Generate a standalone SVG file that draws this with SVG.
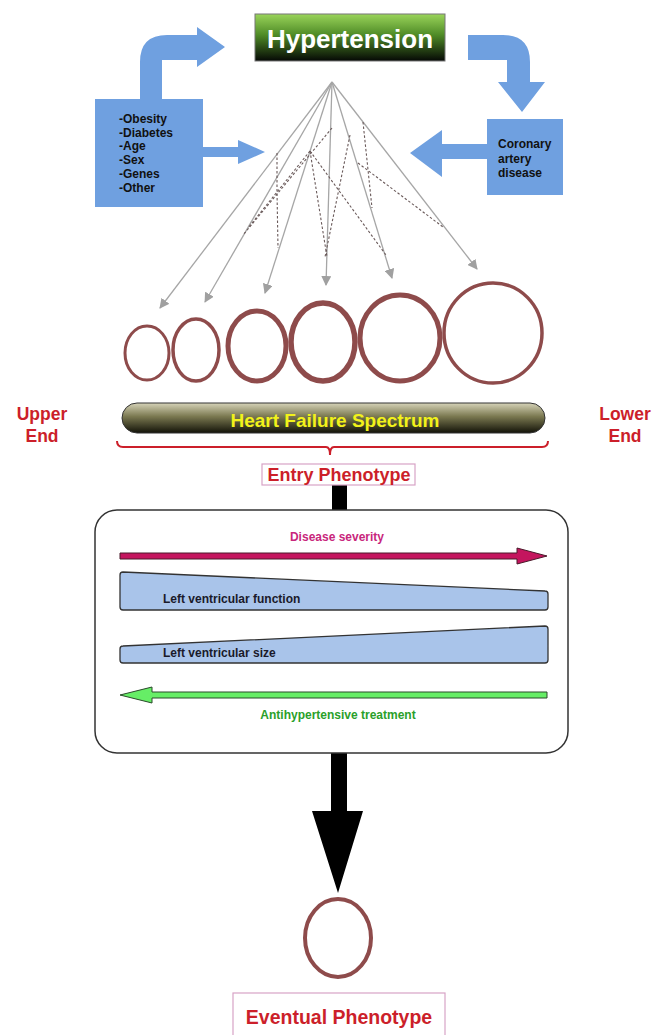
<svg xmlns="http://www.w3.org/2000/svg" width="656" height="1035" viewBox="0 0 656 1035">
<defs>
<linearGradient id="gHyp" x1="0" y1="0" x2="0" y2="1">
<stop offset="0" stop-color="#9ad45a"/>
<stop offset="0.45" stop-color="#4e8a26"/>
<stop offset="1" stop-color="#050805"/>
</linearGradient>
<linearGradient id="gHF" x1="0" y1="0" x2="0" y2="1">
<stop offset="0" stop-color="#d6d3b8"/>
<stop offset="0.45" stop-color="#7a7850"/>
<stop offset="1" stop-color="#121208"/>
</linearGradient>
<marker id="ah" markerWidth="10" markerHeight="10" refX="9" refY="5" orient="auto" markerUnits="userSpaceOnUse">
<path d="M0,0 L10,5 L0,10 Z" fill="#a0a0a0"/>
</marker>
</defs>
<style>
.b{font-family:"Liberation Sans",Arial,sans-serif;font-weight:bold}
.blue{fill:#6fa0e0}
.sol{stroke:#a6a6a6;stroke-width:1.3;fill:none}
.dash{stroke:#6a5a5a;stroke-width:1.1;stroke-dasharray:2.5,2;fill:none}
.ring{fill:none;stroke:#8e4b4b}
.red{fill:#cc1f2a}
.wedge{fill:#a9c4ea;stroke:#333;stroke-width:1.3;stroke-linejoin:round}
</style>
<rect width="656" height="1035" fill="#fff"/>

<g id="connectors">
<path class="blue" d="M140,99 L140,62 Q140,35 167,35 L197,35 L197,27 L225,47 L197,67 L197,60 L162,60 L162,99 Z"/>
<path class="blue" d="M203,147 L238,147 L238,140 L265,152 L238,164 L238,157 L203,157 Z"/>
<path class="blue" d="M468,35 L503,35 Q530,35 530,62 L530,82 L545,82 L522,112 L498,82 L507,82 L507,60 L468,60 Z"/>
<path class="blue" d="M487,144 L442,144 L442,130 L410,153 L442,177 L442,159 L487,159 Z"/>
<g id="fan">
<line class="sol" x1="332" y1="82" x2="160" y2="308" marker-end="url(#ah)"/>
<line class="sol" x1="332" y1="82" x2="205" y2="302" marker-end="url(#ah)"/>
<line class="sol" x1="332" y1="82" x2="265" y2="293" marker-end="url(#ah)"/>
<line class="sol" x1="332" y1="82" x2="326" y2="285" marker-end="url(#ah)"/>
<line class="sol" x1="332" y1="82" x2="392" y2="278" marker-end="url(#ah)"/>
<line class="sol" x1="332" y1="82" x2="477" y2="269" marker-end="url(#ah)"/>
<polyline class="dash" points="277,153 277,192 278,248"/>
<line class="dash" x1="332" y1="128" x2="243" y2="235"/>
<line class="dash" x1="310" y1="151" x2="248" y2="228"/>
<line class="dash" x1="310" y1="151" x2="327" y2="257"/>
<line class="dash" x1="310" y1="151" x2="386" y2="255"/>
<line class="dash" x1="350" y1="135" x2="325" y2="257"/>
<line class="dash" x1="363" y1="122" x2="372" y2="208"/>
<line class="dash" x1="358" y1="163" x2="443" y2="227"/>
</g>
<rect x="332" y="484" width="15" height="30" fill="#000"/>
<path d="M331,753 L347,753 L347,811 L363,811 L338,893 L312,811 L331,811 Z" fill="#000"/>
</g>

<g id="hypertension">
<rect x="255" y="14" width="190" height="47" fill="url(#gHyp)" stroke="#777" stroke-width="1"/>
<text class="b" x="350" y="48" font-size="26" fill="#fff" text-anchor="middle">Hypertension</text>
</g>

<g id="risk-factors">
<rect class="blue" x="95" y="99" width="108" height="108"/>
<text class="b" font-size="12" fill="#111">
<tspan x="119" y="123">-Obesity</tspan>
<tspan x="119" y="137">-Diabetes</tspan>
<tspan x="119" y="150">-Age</tspan>
<tspan x="119" y="164">-Sex</tspan>
<tspan x="119" y="178">-Genes</tspan>
<tspan x="119" y="192">-Other</tspan>
</text>
</g>

<g id="cad">
<rect class="blue" x="487" y="119" width="76" height="76"/>
<text class="b" font-size="12" fill="#111">
<tspan x="498" y="148">Coronary</tspan>
<tspan x="498" y="163">artery</tspan>
<tspan x="498" y="177">disease</tspan>
</text>
</g>

<g id="rings">
<ellipse class="ring" cx="147" cy="353" rx="22" ry="27" stroke-width="3"/>
<ellipse class="ring" cx="196" cy="350" rx="23" ry="31" stroke-width="3.5"/>
<ellipse class="ring" cx="257" cy="346" rx="29" ry="35" stroke-width="5"/>
<ellipse class="ring" cx="323" cy="342" rx="32" ry="39" stroke-width="5.5"/>
<ellipse class="ring" cx="400" cy="338" rx="40" ry="43" stroke-width="5"/>
<ellipse class="ring" cx="493" cy="333" rx="49" ry="50" stroke-width="3.5"/>
</g>

<g id="upper-end">
<text class="b red" font-size="17.5" text-anchor="middle"><tspan x="42" y="420">Upper</tspan><tspan x="42" y="442">End</tspan></text>
</g>
<g id="lower-end">
<text class="b red" font-size="17.5" text-anchor="middle"><tspan x="625" y="420">Lower</tspan><tspan x="625" y="442">End</tspan></text>
</g>

<g id="hf-spectrum">
<rect x="122" y="403" width="423" height="30" rx="15" fill="url(#gHF)" stroke="#333" stroke-width="1"/>
<text class="b" x="335" y="427" font-size="19" fill="#f2f21a" text-anchor="middle">Heart Failure Spectrum</text>
<path d="M117,441 Q117,447 123,447 L326,447 Q330,447 330,455 Q330,447 334,447 L542,447 Q548,447 548,441" fill="none" stroke="#cc1f2a" stroke-width="2"/>
</g>

<g id="entry-phenotype">
<rect x="262" y="464" width="153" height="21" fill="#fff" stroke="#d7a3c6" stroke-width="1.2"/>
<text class="b red" x="339" y="481" font-size="18" text-anchor="middle">Entry Phenotype</text>
</g>

<g id="spectrum-box">
<rect x="95" y="510" width="473" height="243" rx="22" fill="#fff" stroke="#333" stroke-width="1.5"/>
<text class="b" x="337" y="541" font-size="12" fill="#c8267c" text-anchor="middle">Disease severity</text>
<path d="M120,553 L517,553 L517,548 L547,556 L517,564 L517,559 L120,559 Z" fill="#c4155e" stroke="#4a1a2a" stroke-width="1"/>
<path class="wedge" d="M123,572 L545,591 Q548,591 548,594 L548,607 Q548,610 545,610 L123,610 Q120,610 120,607 L120,575 Q120,572 123,572 Z"/>
<text class="b" x="163" y="603" font-size="12" fill="#1a1a2a">Left ventricular function</text>
<path class="wedge" d="M123,646 L545,626 Q548,626 548,629 L548,660 Q548,663 545,663 L123,663 Q120,663 120,660 L120,649 Q120,646 123,646 Z"/>
<text class="b" x="163" y="657" font-size="12" fill="#1a1a2a">Left ventricular size</text>
<path d="M547,692 L152,692 L152,687 L120,695 L152,703 L152,698 L547,698 Z" fill="#66ee66" stroke="#2a4a2a" stroke-width="1"/>
<text class="b" x="338" y="719" font-size="12" fill="#2aa02a" text-anchor="middle">Antihypertensive treatment</text>
</g>

<g id="eventual-ring">
<ellipse class="ring" cx="338" cy="938" rx="33" ry="39" stroke-width="4"/>
</g>

<g id="eventual-phenotype">
<rect x="233" y="993" width="212" height="50" fill="#fff" stroke="#d7a3c6" stroke-width="1.2"/>
<text class="b red" x="339" y="1024" font-size="19.5" text-anchor="middle">Eventual Phenotype</text>
</g>
</svg>
